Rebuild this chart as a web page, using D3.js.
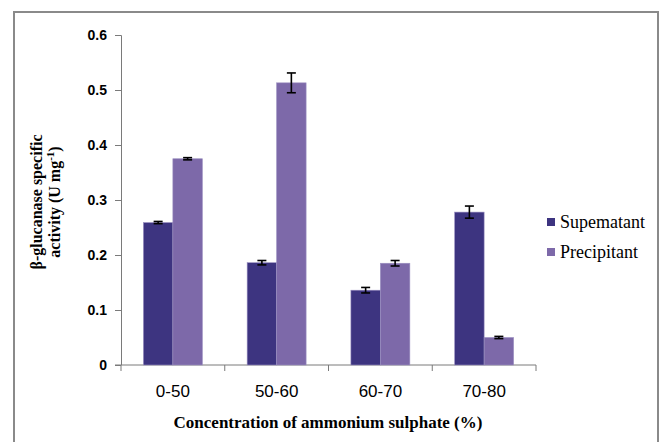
<!DOCTYPE html>
<html>
<head>
<meta charset="utf-8">
<script src="https://cdn.jsdelivr.net/npm/d3@7"></script>
<style>
  body { margin: 0; background: #fff; }
  .tick text { fill: #000; }
</style>
</head>
<body>
<svg id="chart" width="661" height="442"></svg>
<script>
  // data
  const categories = ['0-50', '50-60', '60-70', '70-80'];
  const seriesNames = ['Supematant', 'Precipitant'];
  const supernatant = [0.259, 0.186, 0.136, 0.278];
  const supernatantErr = [0.002, 0.004, 0.005, 0.011];
  const precipitant = [0.375, 0.513, 0.185, 0.050];
  const precipitantErr = [0.002, 0.018, 0.005, 0.002];
  const yTicks = [0, 0.1, 0.2, 0.3, 0.4, 0.5, 0.6];

  const colors = ['#3d3480', '#7d69a9'];

  const svg = d3.select('svg#chart');

  // outer frame
  svg.append('rect')
      .attr('x', 14).attr('y', 12)
      .attr('width', 644).attr('height', 440)
      .attr('fill', 'none')
      .attr('stroke', '#8a8a8a')
      .attr('stroke-width', 2);

  const margin = {top: 35, left: 121};
  const innerwidth = 415;
  const innerheight = 330;

  const g = svg.append('g')
      .attr('transform', `translate(${margin.left},${margin.top})`);

  const xScale = d3.scaleBand()
      .domain(categories)
      .range([0, innerwidth]);

  const xInner = d3.scaleBand()
      .domain(seriesNames)
      .range([0, xScale.bandwidth()])
      .paddingOuter(0.76);

  const yScale = d3.scaleLinear()
      .domain([0, 0.6])
      .range([innerheight, 0]);

  //y axis
  const yAxisG = g.append('g')
      .call(d3.axisLeft(yScale)
          .tickValues(yTicks)
          .tickFormat(d => d === 0 ? '0' : d3.format('.1f')(d))
          .tickSize(6)
          .tickPadding(8));
  yAxisG.selectAll('path, line').attr('stroke', '#7a7a7a');
  yAxisG.select('.domain').attr('d', `M-6,0.5H0.5V${innerheight}`);
  yAxisG.selectAll('text')
      .attr('font-family', 'Liberation Sans, Arial, sans-serif')
      .attr('font-weight', 'bold')
      .attr('font-size', 14);

  //x axis
  const xAxisG = g.append('g')
      .attr('transform', `translate(0,${innerheight})`);
  xAxisG.append('line')
      .attr('x1', -6).attr('x2', innerwidth)
      .attr('stroke', '#7a7a7a');
  xAxisG.selectAll('.xtick').data(d3.range(categories.length + 1))
    .enter().append('line')
      .attr('class', 'xtick')
      .attr('x1', i => i * xScale.step()).attr('x2', i => i * xScale.step())
      .attr('y1', 0).attr('y2', 6)
      .attr('stroke', '#7a7a7a');
  xAxisG.selectAll('.xlabel').data(categories)
    .enter().append('text')
      .attr('class', 'xlabel')
      .attr('x', d => xScale(d) + xScale.bandwidth() / 2)
      .attr('y', 32)
      .attr('text-anchor', 'middle')
      .attr('font-family', 'Liberation Sans, Arial, sans-serif')
      .attr('font-size', 17)
      .text(d => d);

  // bars
  const rows = categories.map((c, i) => ({
    cat: c,
    values: [
      {name: seriesNames[0], v: supernatant[i], e: supernatantErr[i], color: colors[0]},
      {name: seriesNames[1], v: precipitant[i], e: precipitantErr[i], color: colors[1]}
    ]
  }));

  const groups = g.selectAll('.group').data(rows)
    .enter().append('g')
      .attr('class', 'group')
      .attr('transform', d => `translate(${xScale(d.cat)},0)`);

  groups.selectAll('rect').data(d => d.values)
    .enter().append('rect')
      .attr('x', d => xInner(d.name))
      .attr('width', xInner.bandwidth())
      .attr('y', d => yScale(d.v))
      .attr('height', d => innerheight - yScale(d.v))
      .attr('fill', d => d.color)
      .attr('stroke', '#9a8fc0')
      .attr('stroke-width', 0.6);

  // error bars
  const err = groups.selectAll('.err').data(d => d.values)
    .enter().append('g')
      .attr('class', 'err')
      .attr('transform', d => `translate(${xInner(d.name) + xInner.bandwidth() / 2},0)`)
      .attr('stroke', '#000')
      .attr('stroke-width', 1.6);
  err.append('line')
      .attr('y1', d => yScale(d.v + d.e)).attr('y2', d => yScale(d.v - d.e));
  err.append('line')
      .attr('x1', -4.5).attr('x2', 4.5)
      .attr('y1', d => yScale(d.v + d.e)).attr('y2', d => yScale(d.v + d.e));
  err.append('line')
      .attr('x1', -4.5).attr('x2', 4.5)
      .attr('y1', d => yScale(d.v - d.e)).attr('y2', d => yScale(d.v - d.e));

  //Axis labels
  svg.append('text')
      .attr('x', 328).attr('y', 428)
      .attr('text-anchor', 'middle')
      .attr('font-family', 'Liberation Serif, Times New Roman, serif')
      .attr('font-weight', 'bold')
      .attr('font-size', 17)
      .text('Concentration of ammonium sulphate (%)');

  const yLabel = svg.append('text')
      .attr('transform', 'translate(0,202) rotate(-90)')
      .attr('text-anchor', 'middle')
      .attr('font-family', 'Liberation Serif, Times New Roman, serif')
      .attr('font-weight', 'bold')
      .attr('font-size', 16);
  yLabel.append('tspan')
      .attr('x', 0).attr('y', 42)
      .text('β-glucanase specific');
  const line2 = yLabel.append('tspan')
      .attr('x', 0).attr('y', 60);
  line2.append('tspan').text('activity (U mg');
  line2.append('tspan').attr('dy', -6).attr('font-size', 11).text('-1');
  line2.append('tspan').attr('dy', 6).text(')');

  // legend
  const legend = svg.append('g')
      .attr('transform', 'translate(547,218)');
  const item = legend.selectAll('g').data(seriesNames)
    .enter().append('g')
      .attr('transform', (d, i) => `translate(0,${i * 30})`);
  item.append('rect')
      .attr('width', 8).attr('height', 8)
      .attr('fill', (d, i) => colors[i]);
  item.append('text')
      .attr('x', 13).attr('y', 10)
      .attr('font-family', 'Liberation Serif, Times New Roman, serif')
      .attr('font-size', 18)
      .text(d => d);
</script>
</body>
</html>
